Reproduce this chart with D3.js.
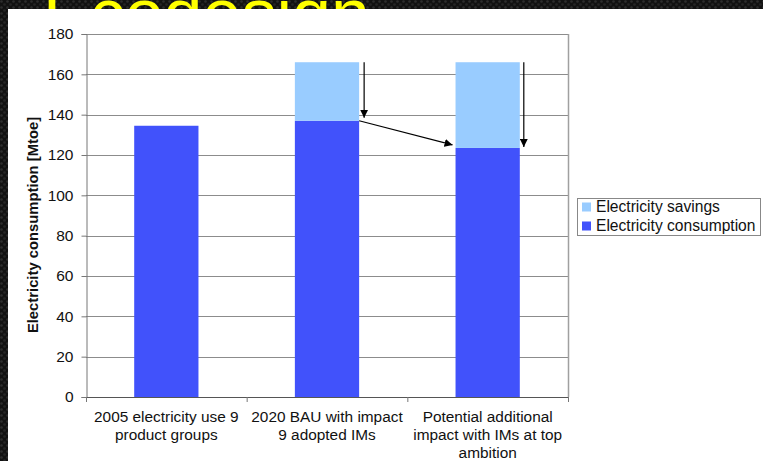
<!DOCTYPE html>
<html>
<head>
<meta charset="utf-8">
<script src="https://cdn.jsdelivr.net/npm/d3@7"></script>
<style>
  html, body { margin: 0; padding: 0; background: #111; }
  svg { display: block; }
</style>
</head>
<body>
<svg id="chart" width="763" height="461"></svg>
<script>
// Chart data
const categories = [
  ["2005 electricity use 9", "product groups"],
  ["2020 BAU with impact", "9 adopted IMs"],
  ["Potential additional", "impact with IMs at top", "ambition"]
];
const consumption = [134.5, 137, 123.5];
const savings = [0, 29, 42.5];
const seriesNames = ["Electricity savings", "Electricity consumption"];
const yTicks = [0, 20, 40, 60, 80, 100, 120, 140, 160, 180];
const slideTitle = "Ecodesign";

const colors = { consumption: "#4152fb", savings: "#99ccff" };

const svg = d3.select("#chart");
const W = 763, H = 461;

// Dark textured slide background
const defs = svg.append("defs");
const pat = defs.append("pattern")
  .attr("id", "carbon").attr("width", 6).attr("height", 6)
  .attr("patternUnits", "userSpaceOnUse");
pat.append("rect").attr("width", 6).attr("height", 6).attr("fill", "#121212");
pat.append("circle").attr("cx", 1.5).attr("cy", 1.5).attr("r", 1.3).attr("fill", "#2e2e2e");
pat.append("circle").attr("cx", 4.5).attr("cy", 4.5).attr("r", 1.3).attr("fill", "#262626");
svg.append("rect").attr("width", W).attr("height", H).attr("fill", "url(#carbon)");

// Slide title (partly covered by the chart panel)
svg.append("text")
  .attr("x", 43).attr("y", 38)
  .attr("font-family", "Liberation Sans, Arial, sans-serif")
  .attr("font-size", 70)
  .attr("fill", "#ffff00")
  .text(slideTitle);

// White chart panel
svg.append("rect").attr("x", 8).attr("y", 9).attr("width", W - 8).attr("height", H - 9).attr("fill", "#ffffff");

const plot = { left: 86, right: 568, top: 34, bottom: 397 };

const x = d3.scaleBand()
  .domain(d3.range(categories.length))
  .range([plot.left, plot.right])
  .paddingInner(0.6)
  .paddingOuter(0.3);

const y = d3.scaleLinear().domain([0, 180]).range([plot.bottom, plot.top]);

const font = "Liberation Sans, Arial, sans-serif";

// Gridlines
svg.append("g")
  .selectAll("line")
  .data(yTicks.filter(d => d > 0))
  .join("line")
  .attr("x1", plot.left).attr("x2", plot.right)
  .attr("y1", d => Math.round(y(d)) + 0.5).attr("y2", d => Math.round(y(d)) + 0.5)
  .attr("stroke", "#8c8c8c").attr("stroke-width", 1);

// Plot area right border
svg.append("line")
  .attr("x1", plot.right + 0.5).attr("x2", plot.right + 0.5)
  .attr("y1", plot.top).attr("y2", plot.bottom)
  .attr("stroke", "#a0a0a0").attr("stroke-width", 1.5);

// Stacked bars
const stackData = categories.map((c, i) => ({ i, consumption: consumption[i], savings: savings[i] }));
const stack = d3.stack().keys(["consumption", "savings"])(stackData);

svg.append("g")
  .selectAll("g")
  .data(stack)
  .join("g")
  .attr("fill", d => colors[d.key])
  .selectAll("rect")
  .data(d => d.filter(s => s[1] > s[0]))
  .join("rect")
  .attr("x", d => x(d.data.i))
  .attr("width", x.bandwidth())
  .attr("y", d => y(d[1]))
  .attr("height", d => y(d[0]) - y(d[1]));

// Y axis
const yAxis = d3.axisLeft(y).tickValues(yTicks).tickSize(5).tickPadding(8).tickFormat(d3.format("d"));
const gy = svg.append("g").attr("transform", `translate(${plot.left + 0.5},0)`).call(yAxis);
gy.select(".domain").attr("stroke", "#777");
gy.selectAll(".tick line").attr("stroke", "#777");
gy.selectAll(".tick text")
  .attr("font-family", font).attr("font-size", 15.5).attr("fill", "#111");

// X axis line and category separator ticks
const gx = svg.append("g");
gx.append("line")
  .attr("x1", plot.left).attr("x2", plot.right + 1)
  .attr("y1", plot.bottom + 0.5).attr("y2", plot.bottom + 0.5)
  .attr("stroke", "#555");
const seps = d3.range(categories.length + 1).map(k => plot.left + k * (plot.right - plot.left) / categories.length);
gx.selectAll("line.sep")
  .data(seps)
  .join("line")
  .attr("class", "sep")
  .attr("x1", d => d + 0.5).attr("x2", d => d + 0.5)
  .attr("y1", plot.bottom).attr("y2", plot.bottom + 5)
  .attr("stroke", "#777");

// Category labels
gx.selectAll("text.cat")
  .data(categories)
  .join("text")
  .attr("class", "cat")
  .attr("text-anchor", "middle")
  .attr("font-family", font).attr("font-size", 15.4).attr("fill", "#111")
  .attr("transform", (d, i) => `translate(${x(i) + x.bandwidth() / 2},${plot.bottom + 25})`)
  .selectAll("tspan")
  .data(d => d)
  .join("tspan")
  .attr("x", 0)
  .attr("dy", (d, k) => k === 0 ? 0 : 18)
  .text(d => d);

// Y axis title
svg.append("text")
  .attr("transform", `translate(38,225) rotate(-90)`)
  .attr("text-anchor", "middle")
  .attr("font-family", font).attr("font-size", 14.8).attr("font-weight", "bold").attr("fill", "#111")
  .text("Electricity consumption [Mtoe]");

// Arrows showing the savings
defs.append("marker")
  .attr("id", "head").attr("viewBox", "0 0 10 10")
  .attr("refX", 10).attr("refY", 5)
  .attr("markerWidth", 8).attr("markerHeight", 8)
  .attr("markerUnits", "userSpaceOnUse")
  .attr("orient", "auto")
  .append("path").attr("d", "M0,0 L10,5 L0,10 Z").attr("fill", "#000");

const total = i => consumption[i] + savings[i];
const right = i => x(i) + x.bandwidth();
const arrows = [
  { x1: right(1) + 5, y1: y(total(1)), x2: right(1) + 5, y2: y(consumption[1]) - 3 },
  { x1: right(1), y1: y(consumption[1]), x2: x(2) - 3, y2: y(consumption[2]) - 3 },
  { x1: right(2) + 4, y1: y(total(2)), x2: right(2) + 4, y2: y(consumption[2]) - 1 }
];
svg.append("g")
  .selectAll("line")
  .data(arrows)
  .join("line")
  .attr("x1", d => d.x1).attr("y1", d => d.y1)
  .attr("x2", d => d.x2).attr("y2", d => d.y2)
  .attr("stroke", "#000").attr("stroke-width", 1.2)
  .attr("marker-end", "url(#head)");

// Legend
const lg = svg.append("g").attr("transform", "translate(577,198)");
lg.append("rect").attr("x", 0.5).attr("y", 0.5).attr("width", 183).attr("height", 37)
  .attr("fill", "#fff").attr("stroke", "#888");
const items = [
  { name: seriesNames[0], color: colors.savings },
  { name: seriesNames[1], color: colors.consumption }
];
const li = lg.selectAll("g.item").data(items).join("g")
  .attr("class", "item")
  .attr("transform", (d, i) => `translate(5,${9 + i * 19})`);
li.append("rect").attr("x", 0).attr("y", -4.5).attr("width", 9).attr("height", 9).attr("fill", d => d.color);
li.append("text").attr("x", 14).attr("y", 5)
  .attr("font-family", font).attr("font-size", 15.6).attr("fill", "#111")
  .text(d => d.name);
</script>
</body>
</html>
